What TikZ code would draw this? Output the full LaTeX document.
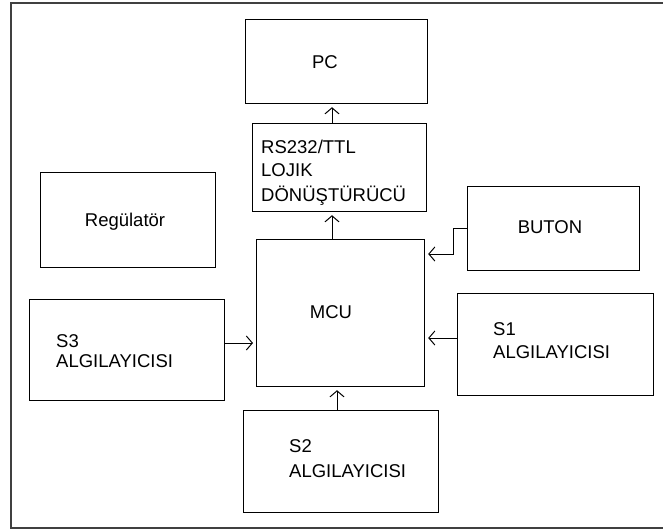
\documentclass[tikz,border=0pt]{standalone}
\usepackage{fontspec}
\setmainfont{Liberation Sans}
\usetikzlibrary{arrows.meta}
\begin{document}
\begin{tikzpicture}[x=1pt,y=-1pt,
  box/.style={draw=black,line width=1.2pt,inner sep=0pt},
  lbl/.style={inner sep=0pt,anchor=base west,font=\fontsize{18.5}{21}\selectfont},
  clbl/.style={inner sep=0pt,anchor=base,font=\fontsize{18.5}{21}\selectfont},
  arr/.style={line width=1pt,-{Straight Barb[length=6pt,width=14pt,line width=1pt]},shorten >=3pt}]
\useasboundingbox (0,0) rectangle (663,531);
% outer frame (right side lies outside the picture)
\draw[line width=2pt,black!75] (670,3) -- (11,3) -- (11,528) -- (670,528);
% boxes
\node[box,anchor=north west,minimum width=182pt,minimum height=84pt] (pc) at (245,19) {};
\node[box,anchor=north west,minimum width=174pt,minimum height=88pt] (rs) at (252,123) {};
\node[box,anchor=north west,minimum width=175pt,minimum height=95pt] (reg) at (40,172) {};
\node[box,anchor=north west,minimum width=172pt,minimum height=84pt] (buton) at (467,186) {};
\node[box,anchor=north west,minimum width=168pt,minimum height=147pt] (mcu) at (256,239) {};
\node[box,anchor=north west,minimum width=195pt,minimum height=101pt] (s3) at (29,299) {};
\node[box,anchor=north west,minimum width=196pt,minimum height=102pt] (s1) at (457,293) {};
\node[box,anchor=north west,minimum width=195pt,minimum height=102pt] (s2) at (243,410) {};
% labels
\node[clbl] (tpc) at (325,68) {PC};
\node[lbl] (trs1) at (261,153) {RS232/TTL};
\node[lbl] (trs2) at (261,176) {LOJIK};
\node[lbl] (trs3) at (261,201) {DÖNÜŞTÜRÜCÜ};
\node[clbl] (treg) at (125,226) {Regülatör};
\node[clbl] (tbut) at (550,233) {BUTON};
\node[clbl] (tmcu) at (331,318) {MCU};
\node[lbl] (ts3a) at (56,347) {S3};
\node[lbl] (ts3b) at (56,367) {ALGILAYICISI};
\node[lbl] (ts1a) at (493,335) {S1};
\node[lbl] (ts1b) at (493,358) {ALGILAYICISI};
\node[lbl] (ts2a) at (289,452) {S2};
\node[lbl] (ts2b) at (289,477) {ALGILAYICISI};
% connector guide coordinates
\coordinate (cx) at (332,0);
\coordinate (cx2) at (337,0);
\coordinate (cy3) at (0,343);
\coordinate (cy1) at (0,338);
\coordinate (cyb) at (0,228);
\coordinate (cyb2) at (0,254);
\coordinate (bend1) at (453,228);
\coordinate (bend2) at (453,254);
% connectors
\draw[arr] (cx |- rs.north) -- (cx |- pc.south);
\draw[arr] (cx |- mcu.north) -- (cx |- rs.south);
\draw[arr] (cx2 |- s2.north) -- (cx2 |- mcu.south);
\draw[arr] (s3.east |- cy3) -- (mcu.west |- cy3);
\draw[arr] (s1.west |- cy1) -- (mcu.east |- cy1);
\draw[arr] (buton.west |- cyb) -- (bend1) -- (bend2) -- (mcu.east |- cyb2);
\end{tikzpicture}
\end{document}
